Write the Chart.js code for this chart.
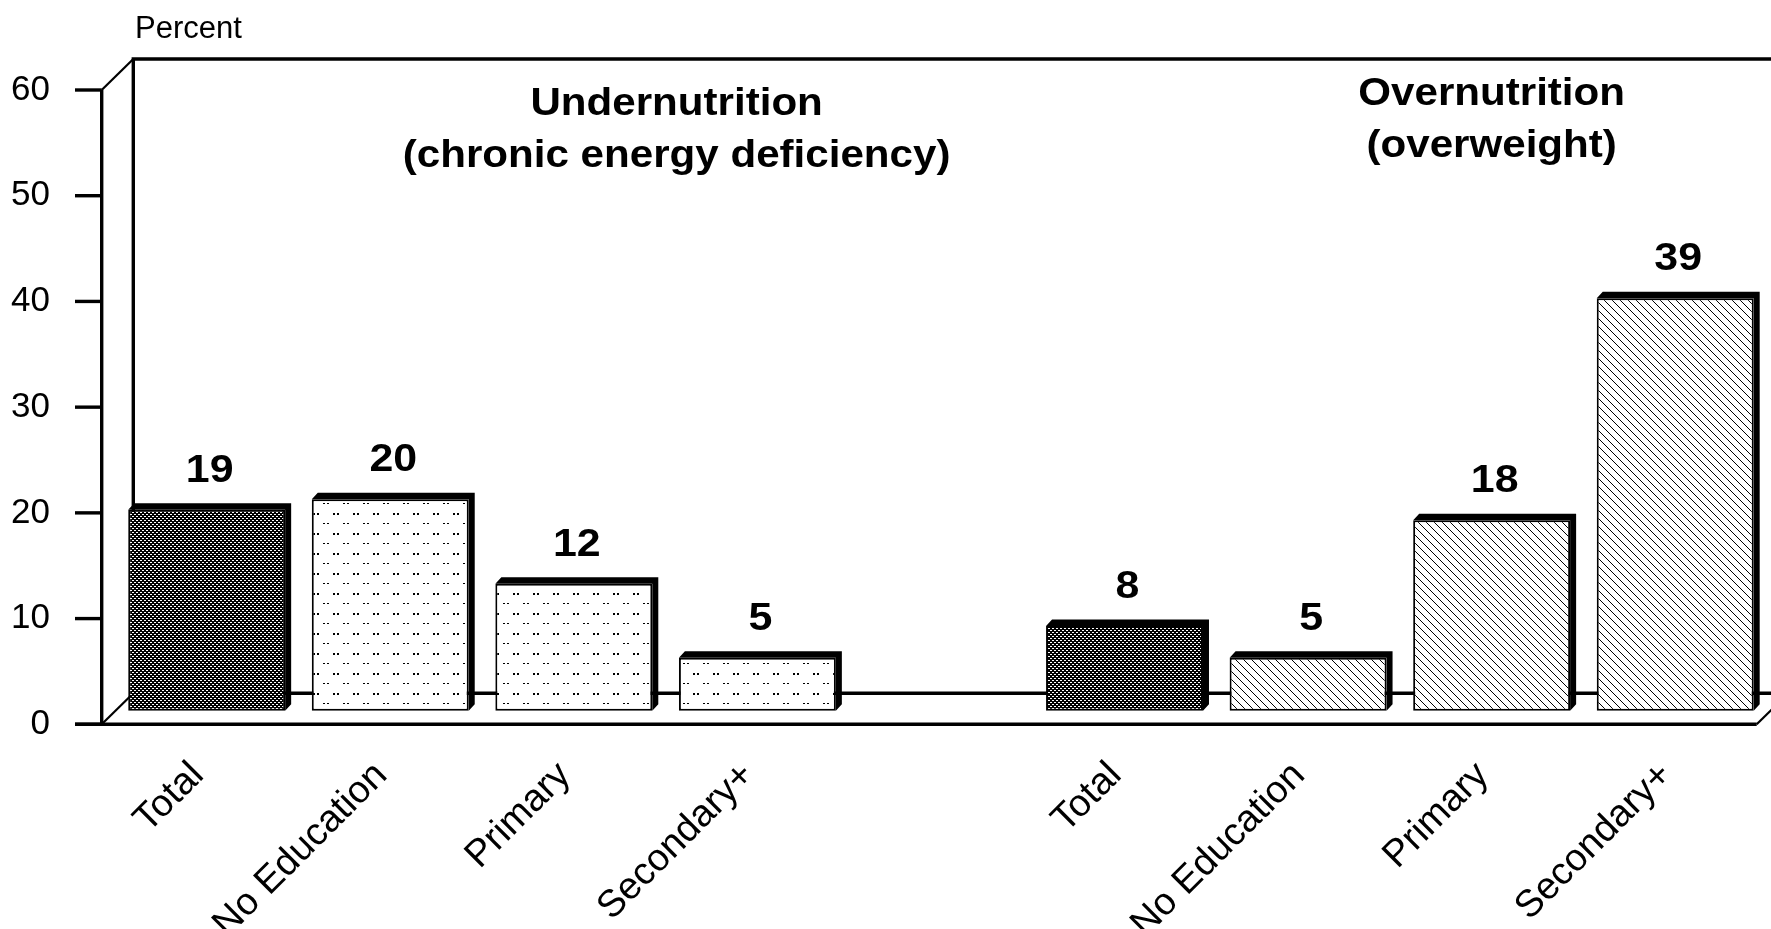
<!DOCTYPE html>
<html>
<head>
<meta charset="utf-8">
<script src="https://cdn.jsdelivr.net/npm/chart.js@4.4.1/dist/chart.umd.min.js"></script>
<style>
  html, body { margin: 0; padding: 0; background: #fff; overflow: hidden; }
  canvas { display: block; }
</style>
</head>
<body>
<canvas id="chart" width="1771" height="929"></canvas>
<script>
// Values; the empty slot separates the two groups
const CATEGORIES = ["Total", "No Education", "Primary", "Secondary+", "", "Total", "No Education", "Primary", "Secondary+"];
const VALUES = [19, 20, 12, 5, null, 8, 5, 18, 39];
const FILLS = ["dark", "dots", "dots", "dots", null, "dark", "hatch", "hatch", "hatch"];
const Y_TICKS = [0, 10, 20, 30, 40, 50, 60];
const GROUP_TITLES = [
    ["Undernutrition", "(chronic energy deficiency)"],
    ["Overnutrition", "(overweight)"]
];
const AXIS_TITLE = "Percent";

const FONT = "'Liberation Sans', Arial, Helvetica, sans-serif";
const DEPTH_X = 31.6;
const DEPTH_Y = 31;
const BAR_SHIFT = 1.29;   // bars stand on the middle plane, a little behind the front axis
const TITLE_SLOT = [2.56, 7.0];
const TITLE_BASE = [[115, 167], [105, 157]];

function makePattern(w, h, draw) {
    const c = document.createElement("canvas");
    c.width = w;
    c.height = h;
    const g = c.getContext("2d");
    draw(g);
    return g.createPattern(c, "repeat");
}

const patterns = {
    dark: makePattern(4, 4, g => {
        g.fillStyle = "#000";
        g.fillRect(0, 0, 4, 4);
        g.fillStyle = "#fff";
        [[0, 0], [1, 0], [2, 2], [3, 2]].forEach(([x, y]) => g.fillRect(x, y, 1, 1));
    }),
    dots: makePattern(20, 20, g => {
        g.fillStyle = "#fff";
        g.fillRect(0, 0, 20, 20);
        g.fillStyle = "#000";
        g.fillRect(3, 3, 2, 1);
        g.fillRect(7, 3, 2, 1);
        g.fillRect(13, 13, 2, 2);
        g.fillRect(17, 13, 2, 2);
    }),
    hatch: makePattern(8, 8, g => {
        g.fillStyle = "#fff";
        g.fillRect(0, 0, 8, 8);
        g.fillStyle = "#000";
        for (let i = 0; i < 8; i++) g.fillRect(i, i, 1, 1);
    })
};

function stretchedText(ctx, text, x, y, font, sx, align) {
    ctx.save();
    ctx.font = font;
    ctx.textAlign = align;
    ctx.textBaseline = "alphabetic";
    ctx.translate(x, y);
    ctx.scale(sx, 1);
    ctx.fillText(text, 0, 0);
    ctx.restore();
}

// Box frame: back wall, floors and the front axis with its tick marks
const boxPlugin = {
    id: "box",
    beforeDatasetsDraw(chart) {
        const { ctx, chartArea, scales: { y } } = chart;
        const fx = chartArea.left - 13.2;
        const bx = fx + DEPTH_X;
        const y0 = y.getPixelForValue(0);
        const yTop = y.getPixelForValue(60);
        const W = chart.width;
        const rx = chartArea.right - 10.3;
        const line = pts => {
            ctx.beginPath();
            ctx.moveTo(pts[0][0], pts[0][1]);
            pts.slice(1).forEach(p => ctx.lineTo(p[0], p[1]));
            ctx.stroke();
        };
        ctx.save();
        ctx.strokeStyle = "#000";
        ctx.lineWidth = 3.4;
        line([[W, yTop - DEPTH_Y], [bx, yTop - DEPTH_Y], [bx, y0 - DEPTH_Y], [W, y0 - DEPTH_Y]]);
        line([[fx, yTop], [fx, y0]]);
        y.ticks.forEach(t => {
            const py = y.getPixelForValue(t.value);
            line([[fx - 26.7, py], [fx, py]]);
        });
        line([[fx - 26.7, y0], [rx, y0]]);
        ctx.lineWidth = 2.2;
        line([[fx, yTop], [bx, yTop - DEPTH_Y]]);
        line([[fx, y0], [bx, y0 - DEPTH_Y]]);
        line([[rx, y0], [rx + DEPTH_X, y0 - DEPTH_Y]]);
        ctx.restore();
    }
};

// Bar depth, value labels, group titles and the axis title
const labelsPlugin = {
    id: "labels",
    afterDatasetsDraw(chart) {
        const { ctx, scales: { x } } = chart;
        const meta = chart.getDatasetMeta(0);
        ctx.save();
        ctx.fillStyle = "#000";
        meta.data.forEach((bar, i) => {
            if (VALUES[i] == null) return;
            const { x: cx, y: top, base, width } = bar.getProps(["x", "y", "base", "width"], true);
            const l = cx - width / 2;
            const r = cx + width / 2;
            ctx.beginPath();
            ctx.moveTo(l, top);
            ctx.lineTo(l + 6, top - 6.5);
            ctx.lineTo(r + 6, top - 6.5);
            ctx.lineTo(r + 6, base - 6.5);
            ctx.lineTo(r, base);
            ctx.lineTo(r, top);
            ctx.closePath();
            ctx.fill();
            stretchedText(ctx, String(VALUES[i]), cx + 3, top - 28, `bold 39px ${FONT}`, 1.1, "center");
        });
        GROUP_TITLES.forEach((lines, g) => {
            const tx = x.getPixelForValue(TITLE_SLOT[g]);
            lines.forEach((txt, k) => {
                stretchedText(ctx, txt, tx, TITLE_BASE[g][k], `bold 39px ${FONT}`, 1.08, "center");
            });
        });
        stretchedText(ctx, AXIS_TITLE, 135, 38, `31px ${FONT}`, 1.0, "left");
        ctx.restore();
    }
};

const ctx = document.getElementById("chart").getContext("2d");
new Chart(ctx, {
    type: "bar",
    data: {
        labels: CATEGORIES,
        datasets: [{
            data: VALUES,
            yAxisID: "yb",
            backgroundColor: FILLS.map(f => f ? patterns[f] : "transparent"),
            borderColor: "#000",
            borderWidth: 2,
            borderSkipped: false,
            barPercentage: 0.855,
            categoryPercentage: 1
        }]
    },
    options: {
        responsive: false,
        animation: false,
        devicePixelRatio: 1,
        layout: { padding: { top: 90, right: 4, left: 0, bottom: 0 } },
        plugins: {
            legend: { display: false },
            tooltip: { enabled: false }
        },
        scales: {
            x: {
                grid: { display: false, drawTicks: false },
                border: { display: false },
                ticks: {
                    color: "#000",
                    font: { family: FONT, size: 38 },
                    minRotation: 45,
                    maxRotation: 45,
                    autoSkip: false,
                    padding: 29,
                    labelOffset: -9
                },
                afterFit: s => { s.height = 929 - 724.3; }
            },
            y: {
                min: 0,
                max: 60,
                grid: { display: false, drawTicks: false },
                border: { display: false },
                ticks: {
                    color: "#000",
                    font: { family: FONT, size: 35 },
                    padding: 65
                },
                afterBuildTicks: s => { s.ticks = Y_TICKS.map(v => ({ value: v })); },
                afterFit: s => { s.width = 114.9; }
            },
            yb: {
                display: false,
                min: -BAR_SHIFT,
                max: 60 - BAR_SHIFT
            }
        }
    },
    plugins: [boxPlugin, labelsPlugin]
});
</script>
</body>
</html>
